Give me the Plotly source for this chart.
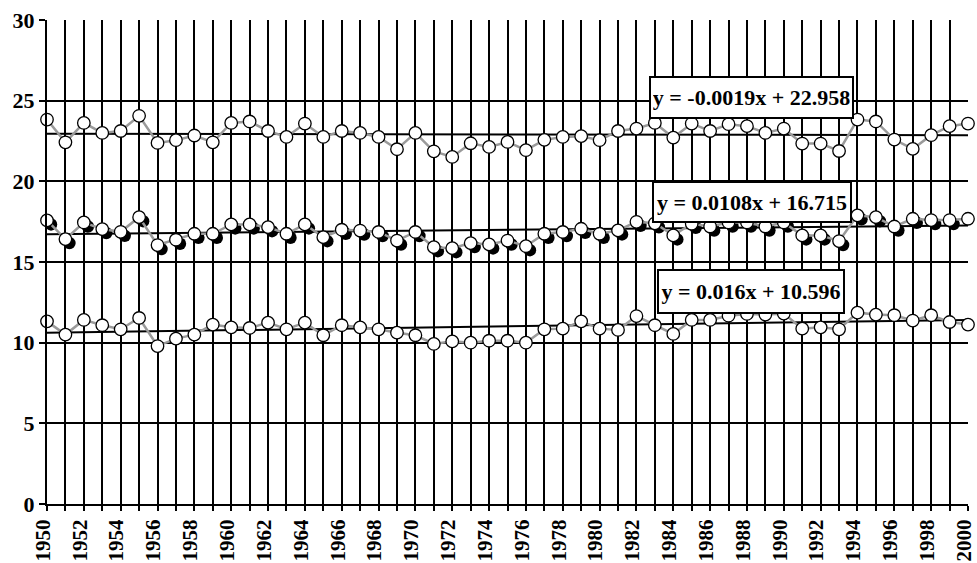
import plotly.graph_objects as go

years = list(range(1950, 2001))

upper = [23.83, 22.42, 23.62, 23.00, 23.12, 24.06, 22.38, 22.55, 22.84, 22.42,
         23.62, 23.71, 23.12, 22.75, 23.58, 22.75, 23.12, 23.00, 22.75, 21.99,
         23.00, 21.86, 21.51, 22.36, 22.13, 22.44, 21.93, 22.57, 22.75, 22.80,
         22.55, 23.12, 23.27, 23.62, 22.71, 23.58, 23.12, 23.54, 23.42, 23.00,
         23.27, 22.34, 22.34, 21.88, 23.83, 23.71, 22.59, 22.01, 22.86, 23.42,
         23.58]

middle = [17.58, 16.42, 17.45, 17.04, 16.87, 17.78, 16.05, 16.38, 16.75, 16.75,
          17.33, 17.33, 17.16, 16.75, 17.33, 16.54, 17.00, 16.95, 16.86, 16.33,
          16.86, 15.92, 15.86, 16.17, 16.09, 16.33, 15.98, 16.75, 16.86, 17.06,
          16.75, 16.96, 17.49, 17.40, 16.65, 17.37, 17.20, 17.45, 17.45, 17.20,
          17.45, 16.65, 16.65, 16.30, 17.89, 17.78, 17.20, 17.68, 17.60, 17.60,
          17.68]

lower = [11.32, 10.50, 11.41, 11.08, 10.83, 11.53, 9.79, 10.25, 10.50, 11.12,
         10.95, 10.91, 11.24, 10.83, 11.24, 10.46, 11.08, 10.95, 10.83, 10.62,
         10.46, 9.92, 10.08, 10.00, 10.12, 10.12, 10.00, 10.83, 10.87, 11.32,
         10.87, 10.79, 11.65, 11.08, 10.54, 11.41, 11.41, 11.67, 11.78, 11.74,
         11.80, 10.87, 10.95, 10.83, 11.86, 11.74, 11.70, 11.37, 11.70, 11.28,
         11.12]

# trend-line coefficients (x = 1 for 1950 ... 51 for 2000)
slopes = [-0.0019, 0.0108, 0.016]
intercepts = [22.958, 16.715, 10.596]
eq_labels = ["y = -0.0019x + 22.958", "y = 0.0108x + 16.715", "y = 0.016x + 10.596"]

x_tick_vals = list(range(1950, 2001, 2))
y_tick_vals = [0, 5, 10, 15, 20, 25, 30]

FONT = "Liberation Serif, Times New Roman, serif"
W, H = 977, 563
ML, MR, MT, MB = 47, 9, 20, 59
px_per_year = (W - ML - MR) / 50.0
px_per_unit = (H - MT - MB) / 30.0
sdx = 4 / px_per_year
sdy = 4 / px_per_unit

fig = go.Figure()

# trend lines
idx = [y - 1949 for y in years]
for a, b in zip(slopes, intercepts):
    fig.add_trace(go.Scatter(x=years, y=[a * i + b for i in idx], mode="lines",
                             line=dict(color="black", width=2), hoverinfo="skip",
                             showlegend=False, cliponaxis=False))

marker_white = dict(symbol="circle", size=12.5, color="white", line=dict(color="black", width=1.3))

# upper series
fig.add_trace(go.Scatter(x=years, y=upper, mode="lines+markers",
                         line=dict(color="#9a9a9a", width=2.5), marker=marker_white,
                         showlegend=False, cliponaxis=False))
# middle series shadow
fig.add_trace(go.Scatter(x=[x + sdx for x in years], y=[v - sdy for v in middle], mode="markers",
                         marker=dict(symbol="circle", size=12.5, color="black"),
                         showlegend=False, cliponaxis=False, hoverinfo="skip"))
fig.add_trace(go.Scatter(x=years, y=middle, mode="lines+markers",
                         line=dict(color="#9a9a9a", width=2.5), marker=marker_white,
                         showlegend=False, cliponaxis=False))
# lower series
fig.add_trace(go.Scatter(x=years, y=lower, mode="lines+markers",
                         line=dict(color="#9a9a9a", width=2.5), marker=marker_white,
                         showlegend=False, cliponaxis=False))

ann_pos = [(1988.24, 25.2), (1988.3, 18.75), (1988.2, 13.2)]
ann_w = [197, 192, 180]
ann_h = [35, 34, 37]
for (ax, ay), txt, w, h in zip(ann_pos, eq_labels, ann_w, ann_h):
    fig.add_annotation(x=ax, y=ay, xref="x", yref="y", text="<b>" + txt + "</b>",
                       showarrow=False, bgcolor="white", bordercolor="black",
                       borderwidth=2, borderpad=2, width=w, height=h,
                       font=dict(family=FONT, size=22, color="black"))

fig.update_xaxes(range=[1950, 2000], tickmode="array", tickvals=x_tick_vals,
                 ticktext=[str(v) for v in x_tick_vals], tickangle=-90,
                 tickfont=dict(family=FONT, size=21, color="black", weight="bold"),
                 showgrid=True, gridcolor="black", gridwidth=2,
                 showline=True, linecolor="black", linewidth=2,
                 ticks="outside", ticklen=5, tickwidth=2, tickcolor="black",
                 zeroline=False, automargin=False, ticklabeloverflow="allow",
                 ticklabelstandoff=0, ticklabelshift=-4,
                 minor=dict(tickmode="linear", tick0=1950, dtick=1, showgrid=True,
                            gridcolor="black", gridwidth=2, ticks="outside",
                            ticklen=5, tickwidth=2, tickcolor="black"))
fig.update_yaxes(range=[0, 30], tickmode="array", tickvals=y_tick_vals,
                 tickfont=dict(family=FONT, size=22, color="black", weight="bold"),
                 showgrid=True, gridcolor="black", gridwidth=2,
                 showline=True, linecolor="black", linewidth=2,
                 ticks="outside", ticklen=6, tickwidth=2, tickcolor="black",
                 zeroline=False, automargin=False, ticklabeloverflow="allow")

fig.update_layout(width=W, height=H, margin=dict(l=ML, r=MR, t=MT, b=MB),
                  plot_bgcolor="white", paper_bgcolor="white", showlegend=False)

fig.write_html("out.html", config={"displayModeBar": False},
               post_script="document.body.style.margin='0';document.body.style.overflow='hidden';")
